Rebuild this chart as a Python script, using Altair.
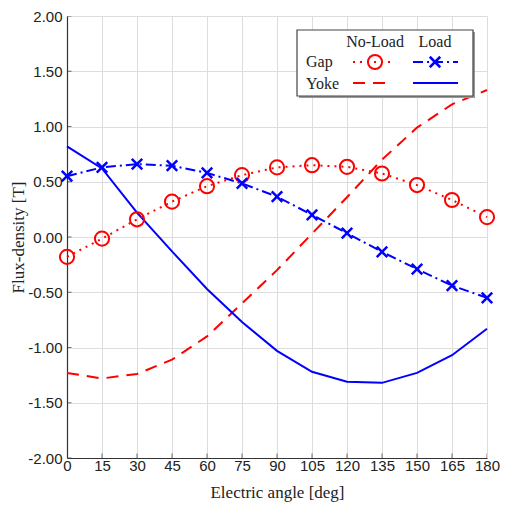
import altair as alt
import pandas as pd

angles = [0, 15, 30, 45, 60, 75, 90, 105, 120, 135, 150, 165, 180]
gap_noload = [-0.18, -0.015, 0.16, 0.32, 0.46, 0.56, 0.63, 0.65, 0.635, 0.575, 0.47, 0.335, 0.18]
gap_load = [0.55, 0.63, 0.66, 0.645, 0.58, 0.485, 0.365, 0.20, 0.035, -0.135, -0.29, -0.44, -0.55]
yoke_noload = [-1.23, -1.28, -1.24, -1.11, -0.90, -0.60, -0.30, 0.03, 0.36, 0.70, 0.99, 1.20, 1.33]
yoke_load = [0.82, 0.62, 0.22, -0.13, -0.47, -0.77, -1.03, -1.22, -1.31, -1.32, -1.23, -1.07, -0.83]

x_ticks = [0, 15, 30, 45, 60, 75, 90, 105, 120, 135, 150, 165, 180]
y_ticks = [-2.0, -1.5, -1.0, -0.5, 0.0, 0.5, 1.0, 1.5, 2.0]

series = {
    "gap_nl": gap_noload,
    "gap_l": gap_load,
    "yoke_nl": yoke_noload,
    "yoke_l": yoke_load,
}
rows = []
for name, vals in series.items():
    for a, v in zip(angles, vals):
        rows.append({"series": name, "angle": a, "value": v})
df = pd.DataFrame(rows)

SANS = "Liberation Sans"
SERIF = "Liberation Serif"
RED = "#ff0000"
BLUE = "#0000ff"

xscale = alt.Scale(domain=[0, 180], nice=False, zero=False)
yscale = alt.Scale(domain=[-2, 2], nice=False, zero=False)

xaxis = alt.Axis(values=x_ticks, title="Electric angle [deg]", ticks=False,
                 labelPadding=0, titlePadding=11, labelFlush=False, labelOverlap=False,
                 labelSeparation=0)
yaxis = alt.Axis(values=y_ticks, title="Flux-density [T]", ticks=False,
                 labelPadding=5, titlePadding=0, labelOverlap=False, labelFlush=False,
                 labelExpr="replace(format(datum.value, '.2f'), '\u2212', '-')")

X = alt.X("angle:Q", scale=xscale, axis=xaxis)
Y = alt.Y("value:Q", scale=yscale, axis=yaxis)

base = alt.Chart(df)

def sel(name):
    return base.transform_filter(alt.datum.series == name)

yoke_nl_line = sel("yoke_nl").mark_line(color=RED, strokeWidth=2, strokeDash=[12, 8]).encode(x=X, y=Y)
yoke_l_line = sel("yoke_l").mark_line(color=BLUE, strokeWidth=2).encode(x=X, y=Y)
gap_nl_line = sel("gap_nl").mark_line(color=RED, strokeWidth=2, strokeDash=[2, 5]).encode(x=X, y=Y)
gap_l_line = sel("gap_l").mark_line(color=BLUE, strokeWidth=2, strokeDash=[10, 4, 2, 4]).encode(x=X, y=Y)

XPATH = "M-1,-1L1,1M1,-1L-1,1"
gap_nl_pts = sel("gap_nl").mark_point(shape="circle", size=200, color=RED, filled=False,
                                      strokeWidth=2, opacity=1).encode(x=X, y=Y)
gap_l_pts = sel("gap_l").mark_point(shape=XPATH, size=110, color=BLUE, filled=False,
                                    strokeWidth=2.5, opacity=1).encode(x=X, y=Y)

# inward ticks
xt = pd.DataFrame({"t": x_ticks})
yt = pd.DataFrame({"t": y_ticks})
xtick_marks = alt.Chart(xt).mark_tick(orient="vertical", size=9, thickness=1, color="#333",
                                      clip=True).encode(
    x=alt.X("t:Q", scale=xscale, axis=xaxis),
    y=alt.YDatum(-2.0, scale=yscale, axis=yaxis))
ytick_marks = alt.Chart(yt).mark_tick(orient="horizontal", size=9, thickness=1, color="#333",
                                      clip=True).encode(
    y=alt.Y("t:Q", scale=yscale, axis=yaxis),
    x=alt.XDatum(0, scale=xscale, axis=xaxis))

# legend (positions in plot pixels)
one = pd.DataFrame({"k": [0]})
L = alt.Chart(one)
leg_shadow = L.mark_rect(fill="#999999").encode(
    x=alt.value(232), x2=alt.value(408), y=alt.value(16), y2=alt.value(82))
leg_box = L.mark_rect(fill="white", stroke="#444444", strokeWidth=1.2).encode(
    x=alt.value(230), x2=alt.value(406), y=alt.value(14), y2=alt.value(80))

def txt(s, x, y, align="center"):
    return L.mark_text(text=s, font=SERIF, fontSize=16, color="#222", align=align,
                       baseline="alphabetic").encode(x=alt.value(x), y=alt.value(y))

leg_texts = [
    txt("No-Load", 308, 31),
    txt("Load", 368, 31),
    txt("Gap", 239, 51, "left"),
    txt("Yoke", 239, 73, "left"),
]
leg_gap_nl = L.mark_rule(color=RED, strokeWidth=2, strokeDash=[2, 5]).encode(
    x=alt.value(286), x2=alt.value(326), y=alt.value(46))
leg_gap_nl_pt = L.mark_point(shape="circle", size=200, color=RED, filled=False,
                             strokeWidth=2, opacity=1).encode(x=alt.value(308), y=alt.value(46))
leg_gap_l = L.mark_rule(color=BLUE, strokeWidth=2, strokeDash=[10, 4, 2, 4]).encode(
    x=alt.value(346), x2=alt.value(391), y=alt.value(46))
leg_gap_l_pt = L.mark_point(shape=XPATH, size=110, color=BLUE, filled=False,
                            strokeWidth=2.5, opacity=1).encode(x=alt.value(368), y=alt.value(46))
leg_yoke_nl = L.mark_rule(color=RED, strokeWidth=2, strokeDash=[12, 8]).encode(
    x=alt.value(286), x2=alt.value(326), y=alt.value(67))
leg_yoke_l = L.mark_rule(color=BLUE, strokeWidth=2).encode(
    x=alt.value(346), x2=alt.value(391), y=alt.value(67))

chart = alt.layer(
    yoke_nl_line, yoke_l_line, gap_nl_line, gap_l_line, gap_nl_pts, gap_l_pts,
    xtick_marks, ytick_marks,
    leg_shadow, leg_box, *leg_texts, leg_gap_nl, leg_gap_nl_pt, leg_gap_l, leg_gap_l_pt,
    leg_yoke_nl, leg_yoke_l,
).properties(
    width=420, height=442,
    autosize=alt.AutoSizeParams(type="none"),
    padding={"left": 59, "top": 8, "right": 13, "bottom": 44},
).configure_view(stroke=None).configure_axis(
    labelFont=SANS, labelFontSize=15, labelColor="#222",
    titleFont=SERIF, titleFontSize=17, titleFontWeight="normal", titleColor="#222",
    gridColor="#dddddd", gridWidth=1, domainColor="#333", domainWidth=1.2,
    labelOverlap=False,
).configure_axisX(labelOverlap=False, labelSeparation=0)

chart.save("out.html", embed_options={"renderer": "svg", "actions": False})
